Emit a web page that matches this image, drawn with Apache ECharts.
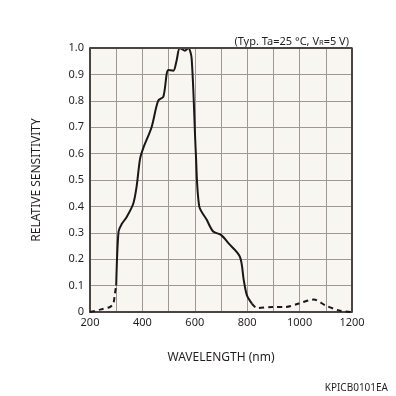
<!DOCTYPE html>
<html>
<head>
<meta charset="utf-8">
<script src="https://cdn.jsdelivr.net/npm/echarts@6/dist/echarts.min.js"></script>
<style>
  html, body { margin: 0; padding: 0; background: #ffffff; }
  #chart { width: 396px; height: 396px; }
</style>
</head>
<body>
<div id="chart"></div>
<script>
// wavelength (nm) / relative sensitivity
const solidWl = [300, 309, 321, 340, 365, 378, 391, 403, 435, 460, 480, 499, 518, 530, 543, 562, 575, 588, 604, 617, 645, 670, 700, 729, 772, 787, 799, 818];
const solidVal = [0.10, 0.305, 0.333, 0.36, 0.41, 0.476, 0.58, 0.62, 0.70, 0.80, 0.816, 0.917, 0.914, 0.95, 1.0, 0.99, 1.0, 0.96, 0.60, 0.40, 0.35, 0.305, 0.292, 0.26, 0.21, 0.12, 0.063, 0.032];
// dashed parts (outside the guaranteed range)
const dashLeftWl = [200, 238, 276, 289, 295, 300];
const dashLeftVal = [0, 0.009, 0.019, 0.032, 0.07, 0.10];
const dashRightWl = [818, 838, 896, 947, 997, 1054, 1099, 1150, 1200];
const dashRightVal = [0.032, 0.015, 0.019, 0.019, 0.032, 0.047, 0.025, 0.006, 0];

const yTicks = ['0', '0.1', '0.2', '0.3', '0.4', '0.5', '0.6', '0.7', '0.8', '0.9', '1.0'];

const pairs = (xs, ys) => xs.map((x, i) => [x, ys[i]]);

const font = 'Noto Sans';
const myChart = echarts.init(document.getElementById('chart'), null, { renderer: 'canvas' });

const option = {
  animation: false,
  backgroundColor: '#ffffff',
  textStyle: { fontFamily: font },
  title: [
    {
      text: '(Typ. Ta=25 °C, V{s|R}=5 V)',
      right: 42,
      top: 31,
      textStyle: {
        fontFamily: font, fontSize: 11, fontWeight: 'normal', color: '#231f20',
        rich: { s: { fontFamily: font, fontSize: 7.5, color: '#231f20', padding: [3, 0, 0, 0] } }
      }
    },
    {
      text: 'KPICB0101EA',
      right: 3,
      top: 378,
      textStyle: { fontFamily: font, fontSize: 10, fontWeight: 'normal', color: '#231f20' }
    }
  ],
  grid: {
    left: 90, right: 44, top: 48, bottom: 84,
    show: true, backgroundColor: '#f8f6f0', borderWidth: 0
  },
  xAxis: {
    type: 'value',
    min: 200, max: 1200, interval: 100,
    name: 'WAVELENGTH (nm)',
    nameLocation: 'middle',
    nameGap: 40,
    nameTextStyle: { fontFamily: font, fontSize: 12, color: '#231f20' },
    axisLine: { show: true, onZero: false, lineStyle: { color: '#4a4443', width: 2 } },
    axisTick: { show: false },
    axisLabel: {
      fontFamily: font, fontSize: 11, color: '#231f20', margin: 5,
      formatter: v => (v % 200 === 0 ? String(v) : '')
    },
    splitLine: { show: true, lineStyle: { color: '#9b9896', width: 1 } }
  },
  yAxis: {
    type: 'value',
    min: 0, max: 1, interval: 0.1,
    name: 'RELATIVE SENSITIVITY',
    nameLocation: 'middle',
    nameGap: 47,
    nameTextStyle: { fontFamily: font, fontSize: 12, color: '#231f20' },
    axisLine: { show: true, lineStyle: { color: '#4a4443', width: 2 } },
    axisTick: { show: false },
    axisLabel: {
      fontFamily: font, fontSize: 11, color: '#231f20', margin: 6,
      formatter: (v) => yTicks[Math.round(v * 10)]
    },
    splitLine: { show: true, lineStyle: { color: '#9b9896', width: 1 } }
  },
  series: [
    {
      type: 'line',
      data: pairs(solidWl, solidVal),
      smooth: 0.3,
      showSymbol: false,
      lineStyle: { color: '#1a1718', width: 2 },
      z: 5
    },
    {
      type: 'line',
      data: pairs(dashLeftWl, dashLeftVal),
      smooth: 0.3,
      showSymbol: false,
      lineStyle: { color: '#1a1718', width: 2, type: [5, 4] },
      z: 5
    },
    {
      type: 'line',
      data: pairs(dashRightWl, dashRightVal),
      smooth: 0.3,
      showSymbol: false,
      lineStyle: { color: '#1a1718', width: 2, type: [5, 4] },
      z: 5
    },
    {
      // top and right frame of the plot
      type: 'line',
      data: [[200, 1], [1200, 1], [1200, 0]],
      showSymbol: false,
      silent: true,
      lineStyle: { color: '#4a4443', width: 2 },
      z: 6
    }
  ]
};

myChart.setOption(option);
window.onresize = function () {
  myChart.resize();
};
</script>
</body>
</html>
